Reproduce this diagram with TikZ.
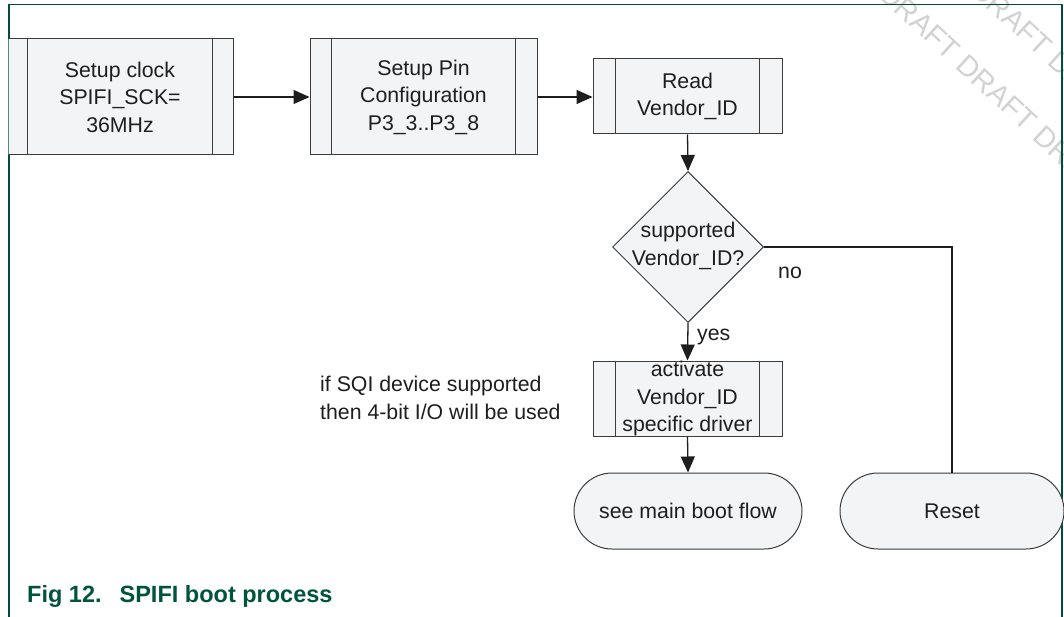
\documentclass[tikz,border=0pt]{standalone}
\usepackage{fontspec}
\setmainfont{Liberation Sans}
\usetikzlibrary{shapes.geometric,arrows.meta,calc}
\definecolor{frameg}{RGB}{0,77,58}
\definecolor{capg}{RGB}{0,84,62}
\definecolor{boxfill}{RGB}{243,244,246}
\definecolor{boxline}{RGB}{60,60,60}
\definecolor{inkc}{RGB}{30,30,30}
\definecolor{wmc}{RGB}{210,210,210}
\tikzset{
  txt/.style={font=\fontsize{21.3}{27.5}\selectfont, text=inkc, align=center},
  procbox/.style={draw=boxline, fill=boxfill, line width=1pt, inner sep=0pt, txt},
  innerline/.style={draw=boxline, line width=1pt},
  term/.style={draw=boxline, fill=boxfill, line width=1pt, rounded corners=38pt,
    minimum width=#1, minimum height=76pt, inner sep=0pt, txt},
  decision/.style={diamond, aspect=1, draw=boxline, fill=boxfill, line width=1pt,
    minimum width=151pt, minimum height=151pt, inner sep=0pt},
  conn/.style={draw=inkc, line width=1.3pt, -{Triangle[length=16pt,width=14pt]}},
  plainline/.style={draw=inkc, line width=1.3pt},
  framel/.style={draw=frameg, line width=1.3pt},
  wmark/.style={font=\fontsize{29}{31}\selectfont, text=wmc, inner sep=0pt}
}
\begin{document}
\begin{tikzpicture}[x=1pt,y=-1pt]
\useasboundingbox (0,0) rectangle (1064,617);
\fill[white] (0,0) rectangle (1064,617);
% watermark
\begin{scope}
  \clip (0,0) rectangle (1064,617);
  \node[wmark, anchor=west, rotate=-42.7] (wm1) at (884,-11) {DRAFT DRAFT DRAFT DRAFT};
  \node[wmark, anchor=west, rotate=-42.7] (wm2) at (899,-86) {DRAFT DRAFT DRAFT DRAFT};
\end{scope}
% frame
\draw[framel] (9,617) -- (9,4.5) -- (1062,4.5) -- (1062,617);
% box 1 (cut off at the frame)
\begin{scope}
  \clip (8.6,0) rectangle (1064,617);
  \node[procbox, minimum width=226pt, minimum height=116pt] (b1) at (120,97)
    {Setup clock\\SPIFI\_SCK=\\36MHz};
  \draw[innerline] ([xshift=21pt]b1.north west) -- ([xshift=21pt]b1.south west);
  \draw[innerline] ([xshift=-21pt]b1.north east) -- ([xshift=-21pt]b1.south east);
\end{scope}
% box 2
\node[procbox, minimum width=227pt, minimum height=116pt] (b2) at (423.5,97)
  {Setup Pin\\Configuration\\P3\_3..P3\_8};
\draw[innerline] ([xshift=22pt]b2.north west) -- ([xshift=22pt]b2.south west);
\draw[innerline] ([xshift=-22pt]b2.north east) -- ([xshift=-22pt]b2.south east);
% box 3
\node[procbox, minimum width=189pt, minimum height=75pt] (b3) at (687.5,96.5)
  {Read\\Vendor\_ID};
\draw[innerline] ([xshift=23pt]b3.north west) -- ([xshift=23pt]b3.south west);
\draw[innerline] ([xshift=-23pt]b3.north east) -- ([xshift=-23pt]b3.south east);
% decision
\node[decision] (dia) at (688,247) {};
\node[txt, inner sep=0pt] (diat) at (688,246) {supported\\Vendor\_ID?};
% box 4
\node[procbox, minimum width=189pt, minimum height=75pt] (b4) at (687.5,398.5)
  {activate\\Vendor\_ID\\specific driver};
\draw[innerline] ([xshift=23pt]b4.north west) -- ([xshift=23pt]b4.south west);
\draw[innerline] ([xshift=-23pt]b4.north east) -- ([xshift=-23pt]b4.south east);
% terminals
\node[term=228pt] (t1) at (688,511) {see main boot flow};
\node[term=224pt] (t2) at (952,511) {Reset};
% connectors
\draw[conn] (b1.east) -- (b2.west);
\draw[conn] (b2.east) -- (b3.west |- b2.east);
\draw[conn] (b3.south) -- (dia.north);
\draw[conn] (dia.south) -- (b4.north);
\draw[conn] (b4.south) -- (t1.north);
\draw[plainline] (dia.east) -| (t2.north);
% labels
\node[txt, anchor=west, inner sep=0pt] (yes) at (697,337) {yes};
\node[txt, inner sep=0pt] (no) at (790,273) {no};
\node[txt, align=left, anchor=west, inner sep=0pt] (note) at (320,398)
  {if SQI device supported\\then 4-bit I/O will be used};
% caption
\node[anchor=base west, inner sep=0pt, font=\fontsize{23.5}{28}\selectfont\bfseries, text=capg] (cap) at (27,602)
  {Fig 12.\hspace{18pt}SPIFI boot process};
\end{tikzpicture}
\end{document}
